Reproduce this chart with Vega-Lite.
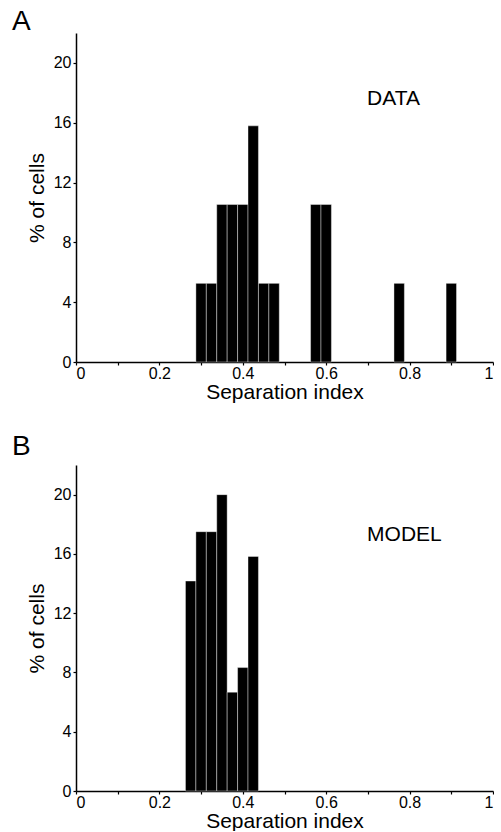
{
  "$schema": "https://vega.github.io/schema/vega-lite/v6.json",
  "background": "white",
  "padding": {"left": 12, "top": 8, "right": 0, "bottom": 0},
  "bounds": "flush",
  "spacing": 103,
  "config": {
    "font": "Liberation Sans",
    "view": {"stroke": null},
    "axis": {
      "grid": false,
      "domainColor": "black",
      "tickColor": "black",
      "labelColor": "black",
      "titleColor": "black",
      "labelFontSize": 16,
      "titleFontSize": 21,
      "titleFontWeight": "normal",
      "tickSize": 3,
      "domainWidth": 1.5,
      "tickWidth": 1.2,
      "labelPadding": 2
    },
    "axisX": {"labelPadding": 0},
    "title": {"fontSize": 28, "fontWeight": "normal", "anchor": "start", "frame": "group", "color": "black"}
  },
  "datasets": {
    "data": [
      {"bin_start": 0.2875, "bin_end": 0.3125, "percent": 5.26},
      {"bin_start": 0.3125, "bin_end": 0.3375, "percent": 5.26},
      {"bin_start": 0.3375, "bin_end": 0.3625, "percent": 10.53},
      {"bin_start": 0.3625, "bin_end": 0.3875, "percent": 10.53},
      {"bin_start": 0.3875, "bin_end": 0.4125, "percent": 10.53},
      {"bin_start": 0.4125, "bin_end": 0.4375, "percent": 15.79},
      {"bin_start": 0.4375, "bin_end": 0.4625, "percent": 5.26},
      {"bin_start": 0.4625, "bin_end": 0.4875, "percent": 5.26},
      {"bin_start": 0.5625, "bin_end": 0.5875, "percent": 10.53},
      {"bin_start": 0.5875, "bin_end": 0.6125, "percent": 10.53},
      {"bin_start": 0.7625, "bin_end": 0.7875, "percent": 5.26},
      {"bin_start": 0.8875, "bin_end": 0.9125, "percent": 5.26}
    ],
    "model": [
      {"bin_start": 0.2625, "bin_end": 0.2875, "percent": 14.17},
      {"bin_start": 0.2875, "bin_end": 0.3125, "percent": 17.5},
      {"bin_start": 0.3125, "bin_end": 0.3375, "percent": 17.5},
      {"bin_start": 0.3375, "bin_end": 0.3625, "percent": 20},
      {"bin_start": 0.3625, "bin_end": 0.3875, "percent": 6.67},
      {"bin_start": 0.3875, "bin_end": 0.4125, "percent": 8.33},
      {"bin_start": 0.4125, "bin_end": 0.4375, "percent": 15.83}
    ]
  },
  "vconcat": [
    {
      "title": {"text": "A", "dx": -64, "offset": -3},
      "width": 417,
      "height": 329,
      "layer": [
        {
          "data": {"name": "data"},
          "mark": {"type": "bar", "color": "black", "stroke": "white", "strokeWidth": 0.4},
          "encoding": {
            "x": {"field": "bin_start", "type": "quantitative",
              "scale": {"domain": [0, 1], "nice": false, "zero": false},
              "axis": {"title": "Separation index", "values": [0, 0.1, 0.2, 0.3, 0.4, 0.5, 0.6, 0.7, 0.8, 0.9, 1], "format": "~g",
                "labelExpr": "round(datum.value*10) % 2 == 0 ? datum.label : ''", "titlePadding": 0}},
            "x2": {"field": "bin_end"},
            "y": {"field": "percent", "type": "quantitative",
              "scale": {"domain": [0, 22], "nice": false},
              "axis": {"title": "% of cells", "values": [0, 2, 4, 6, 8, 10, 12, 14, 16, 18, 20, 22],
                "labelExpr": "datum.value % 4 == 0 ? datum.label : ''", "titlePadding": 6}},
            "y2": {"datum": 0}
          }
        },
        {
          "data": {"values": [{"label": "DATA"}]},
          "mark": {"type": "text", "align": "left", "baseline": "alphabetic", "fontSize": 21, "color": "black"},
          "encoding": {
            "text": {"field": "label"},
            "x": {"datum": 0.698, "type": "quantitative"},
            "y": {"datum": 17.2, "type": "quantitative"}
          }
        }
      ]
    },
    {
      "title": {"text": "B", "dx": -64, "offset": 4},
      "width": 417,
      "height": 326,
      "layer": [
        {
          "data": {"name": "model"},
          "mark": {"type": "bar", "color": "black", "stroke": "white", "strokeWidth": 0.4},
          "encoding": {
            "x": {"field": "bin_start", "type": "quantitative",
              "scale": {"domain": [0, 1], "nice": false, "zero": false},
              "axis": {"title": "Separation index", "values": [0, 0.1, 0.2, 0.3, 0.4, 0.5, 0.6, 0.7, 0.8, 0.9, 1], "format": "~g",
                "labelExpr": "round(datum.value*10) % 2 == 0 ? datum.label : ''", "titlePadding": 0}},
            "x2": {"field": "bin_end"},
            "y": {"field": "percent", "type": "quantitative",
              "scale": {"domain": [0, 22], "nice": false},
              "axis": {"title": "% of cells", "values": [0, 2, 4, 6, 8, 10, 12, 14, 16, 18, 20, 22],
                "labelExpr": "datum.value % 4 == 0 ? datum.label : ''", "titlePadding": 6}},
            "y2": {"datum": 0}
          }
        },
        {
          "data": {"values": [{"label": "MODEL"}]},
          "mark": {"type": "text", "align": "left", "baseline": "alphabetic", "fontSize": 21, "color": "black"},
          "encoding": {
            "text": {"field": "label"},
            "x": {"datum": 0.698, "type": "quantitative"},
            "y": {"datum": 16.85, "type": "quantitative"}
          }
        }
      ]
    }
  ]
}
